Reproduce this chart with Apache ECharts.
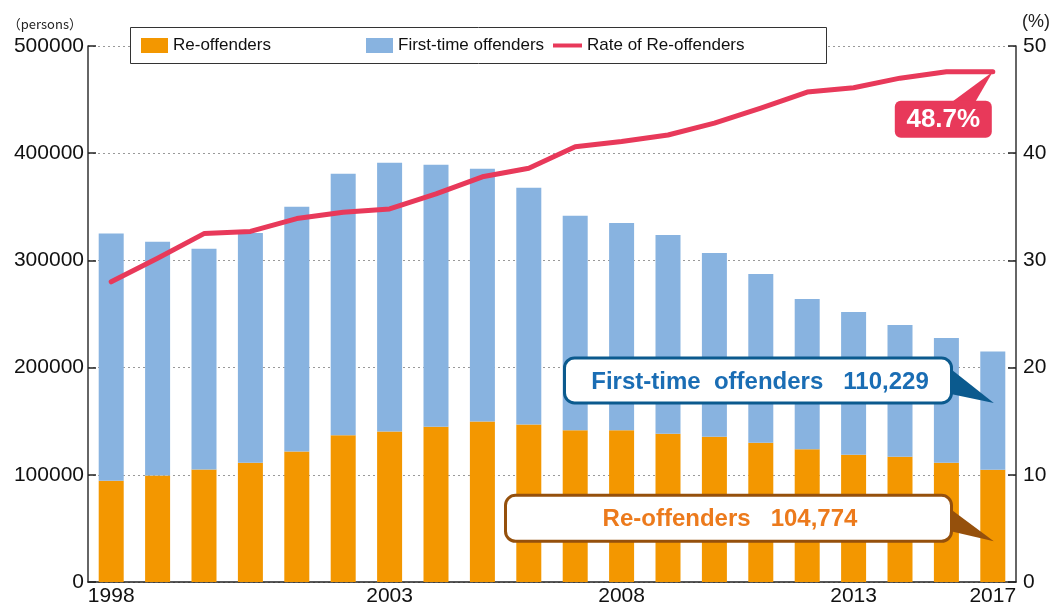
<!DOCTYPE html>
<html>
<head>
<meta charset="utf-8">
<script src="https://cdn.jsdelivr.net/npm/echarts@6/dist/echarts.min.js"></script>
<style>
  html, body { margin: 0; padding: 0; background: #fff; }
  #chart { width: 1054px; height: 604px; }
</style>
</head>
<body>
<div id="chart"></div>
<script>
const years = ['1998', '1999', '2000', '2001', '2002', '2003', '2004', '2005', '2006', '2007',
  '2008', '2009', '2010', '2011', '2012', '2013', '2014', '2015', '2016', '2017'];
// labels as printed under the axis
const xTickLabels = ['1998', '', '', '', '', '', '2003', '', '', '', '', '2008', '', '', '', '', '2013', '', '', '2017'];

const reOffenders = [94500, 99400, 105000, 111300, 121800, 136800, 140500, 144900, 149800, 146900,
  141600, 141600, 138400, 135600, 130000, 123800, 118800, 116900, 111300, 104774];
const firstTime = [230500, 218000, 205900, 214200, 228200, 244100, 250700, 244400, 235700, 220900,
  200100, 193200, 185200, 171200, 157300, 140100, 133000, 122800, 116300, 110229];
const reRate = [28.0, 30.2, 32.5, 32.7, 33.9, 34.5, 34.8, 36.2, 37.8, 38.6,
  40.6, 41.1, 41.7, 42.8, 44.2, 45.7, 46.1, 47.0, 47.6, 47.6];

const rateNote = '48.7%';
const firstNote = 'First-time  offenders   110,229';
const reNote = 'Re-offenders   104,774';

const ORANGE = '#f39700';
const BLUE = '#88b3e0';
const RED = '#e8395a';
const FONT = '"Liberation Sans", Arial, sans-serif';

let chart = echarts.init(document.getElementById('chart'));

let legendBase = {
  orient: 'horizontal',
  top: 37,
  padding: 0,
  z: 10,
  selectedMode: false,
  itemWidth: 27,
  itemHeight: 15,
  textStyle: { fontFamily: FONT, fontSize: 17, color: '#111' }
};

let option = {
  animation: false,
  textStyle: { fontFamily: FONT },
  grid: { left: 88, right: 38, top: 46, bottom: 22, outerBoundsMode: 'none' },
  legend: [
    Object.assign({}, legendBase, { left: 141, data: [{ name: 'Re-offenders', icon: 'rect' }] }),
    Object.assign({}, legendBase, { left: 366, data: [{ name: 'First-time offenders', icon: 'rect' }] }),
    Object.assign({}, legendBase, { left: 553, itemWidth: 29, itemHeight: 4,
      data: [{ name: 'Rate of Re-offenders', icon: 'rect' }] })
  ],
  xAxis: {
    type: 'category',
    data: years,
    boundaryGap: true,
    axisLine: { lineStyle: { color: '#222', width: 1.5 } },
    axisTick: { show: false },
    axisLabel: {
      interval: 0,
      margin: 4,
      fontSize: 21,
      color: '#111',
      formatter: (v, i) => xTickLabels[i]
    }
  },
  yAxis: [
    {
      type: 'value',
      min: 0, max: 500000, interval: 100000,
      name: '（persons）',
      nameLocation: 'end',
      nameGap: 15,
      nameTextStyle: { fontFamily: '"Noto Sans CJK JP", sans-serif', fontSize: 13, color: '#222',
        align: 'right', padding: [0, 6, 0, 0] },
      axisLine: { show: true, lineStyle: { color: '#333', width: 1.5 } },
      axisTick: { show: true, inside: true, length: 8, lineStyle: { color: '#222', width: 1.5 } },
      axisLabel: { fontSize: 21, color: '#111', margin: 4, formatter: v => String(v) },
      splitLine: { show: true, lineStyle: { color: '#999', width: 1, type: [2, 3] } }
    },
    {
      type: 'value',
      min: 0, max: 50, interval: 10,
      name: '(%)',
      nameLocation: 'end',
      nameGap: 15,
      nameTextStyle: { fontSize: 18, color: '#222', align: 'left', padding: [0, 0, 0, 6] },
      axisLine: { show: true, lineStyle: { color: '#333', width: 1.5 } },
      axisTick: { show: true, inside: true, length: 8, lineStyle: { color: '#222', width: 1.5 } },
      axisLabel: { fontSize: 21, color: '#111', margin: 7 },
      splitLine: { show: false }
    }
  ],
  series: [
    {
      name: 'Re-offenders',
      type: 'bar',
      stack: 'total',
      barWidth: 25,
      itemStyle: { color: ORANGE },
      data: reOffenders
    },
    {
      name: 'First-time offenders',
      type: 'bar',
      stack: 'total',
      barWidth: 25,
      itemStyle: { color: BLUE },
      data: firstTime
    },
    {
      name: 'Rate of Re-offenders',
      type: 'line',
      yAxisIndex: 1,
      symbol: 'none',
      z: 5,
      lineStyle: { color: RED, width: 5, cap: 'round', join: 'round' },
      itemStyle: { color: RED },
      data: reRate
    }
  ]
};

option && chart.setOption(option);

// callouts, placed from the last data point
let last = years.length - 1;
let tip = chart.convertToPixel({ seriesIndex: 2 }, [last, reRate[last]]);
let tx = tip[0], ty = tip[1];
let firstTipY = chart.convertToPixel({ yAxisIndex: 0 }, 167000);
let reTipY = chart.convertToPixel({ yAxisIndex: 0 }, 38000);

chart.setOption({
  graphic: [
    // legend frame
    { type: 'rect', z: 5, shape: { x: 130.5, y: 27.5, width: 696, height: 36 },
      style: { fill: '#fff', stroke: '#333', lineWidth: 1 } },

    // rate callout
    { type: 'polygon', z: 20, shape: { points: [[tx, ty], [tx - 42, ty + 31], [tx - 18, ty + 31]] },
      style: { fill: RED } },
    { type: 'rect', z: 21, shape: { x: tx - 98, y: ty + 29, width: 97, height: 37, r: 6 },
      style: { fill: RED } },
    { type: 'text', z: 22, x: tx - 49.5, y: ty + 48,
      style: { text: rateNote, fill: '#fff', font: 'bold 26px ' + FONT, align: 'center', verticalAlign: 'middle' } },

    // first-time callout
    { type: 'polygon', z: 20, shape: { points: [[tx - 42, firstTipY - 34], [tx + 1, firstTipY], [tx - 42, firstTipY - 9]] },
      style: { fill: '#0b5a8e' } },
    { type: 'rect', z: 21, shape: { x: 564.5, y: firstTipY - 45, width: 387, height: 45, r: 10 },
      style: { fill: '#fff', stroke: '#0b5a8e', lineWidth: 3 } },
    { type: 'text', z: 22, x: 760, y: firstTipY - 21,
      style: { text: firstNote, fill: '#1a6db4', font: 'bold 24px ' + FONT, align: 'center', verticalAlign: 'middle' } },

    // re-offenders callout
    { type: 'polygon', z: 20, shape: { points: [[tx - 42, reTipY - 32], [tx + 1, reTipY], [tx - 42, reTipY - 10]] },
      style: { fill: '#95500c' } },
    { type: 'rect', z: 21, shape: { x: 505.5, y: reTipY - 46, width: 446, height: 46, r: 10 },
      style: { fill: '#fff', stroke: '#95500c', lineWidth: 3 } },
    { type: 'text', z: 22, x: 730, y: reTipY - 22,
      style: { text: reNote, fill: '#ec7a1c', font: 'bold 24px ' + FONT, align: 'center', verticalAlign: 'middle' } }
  ]
});
</script>
</body>
</html>
